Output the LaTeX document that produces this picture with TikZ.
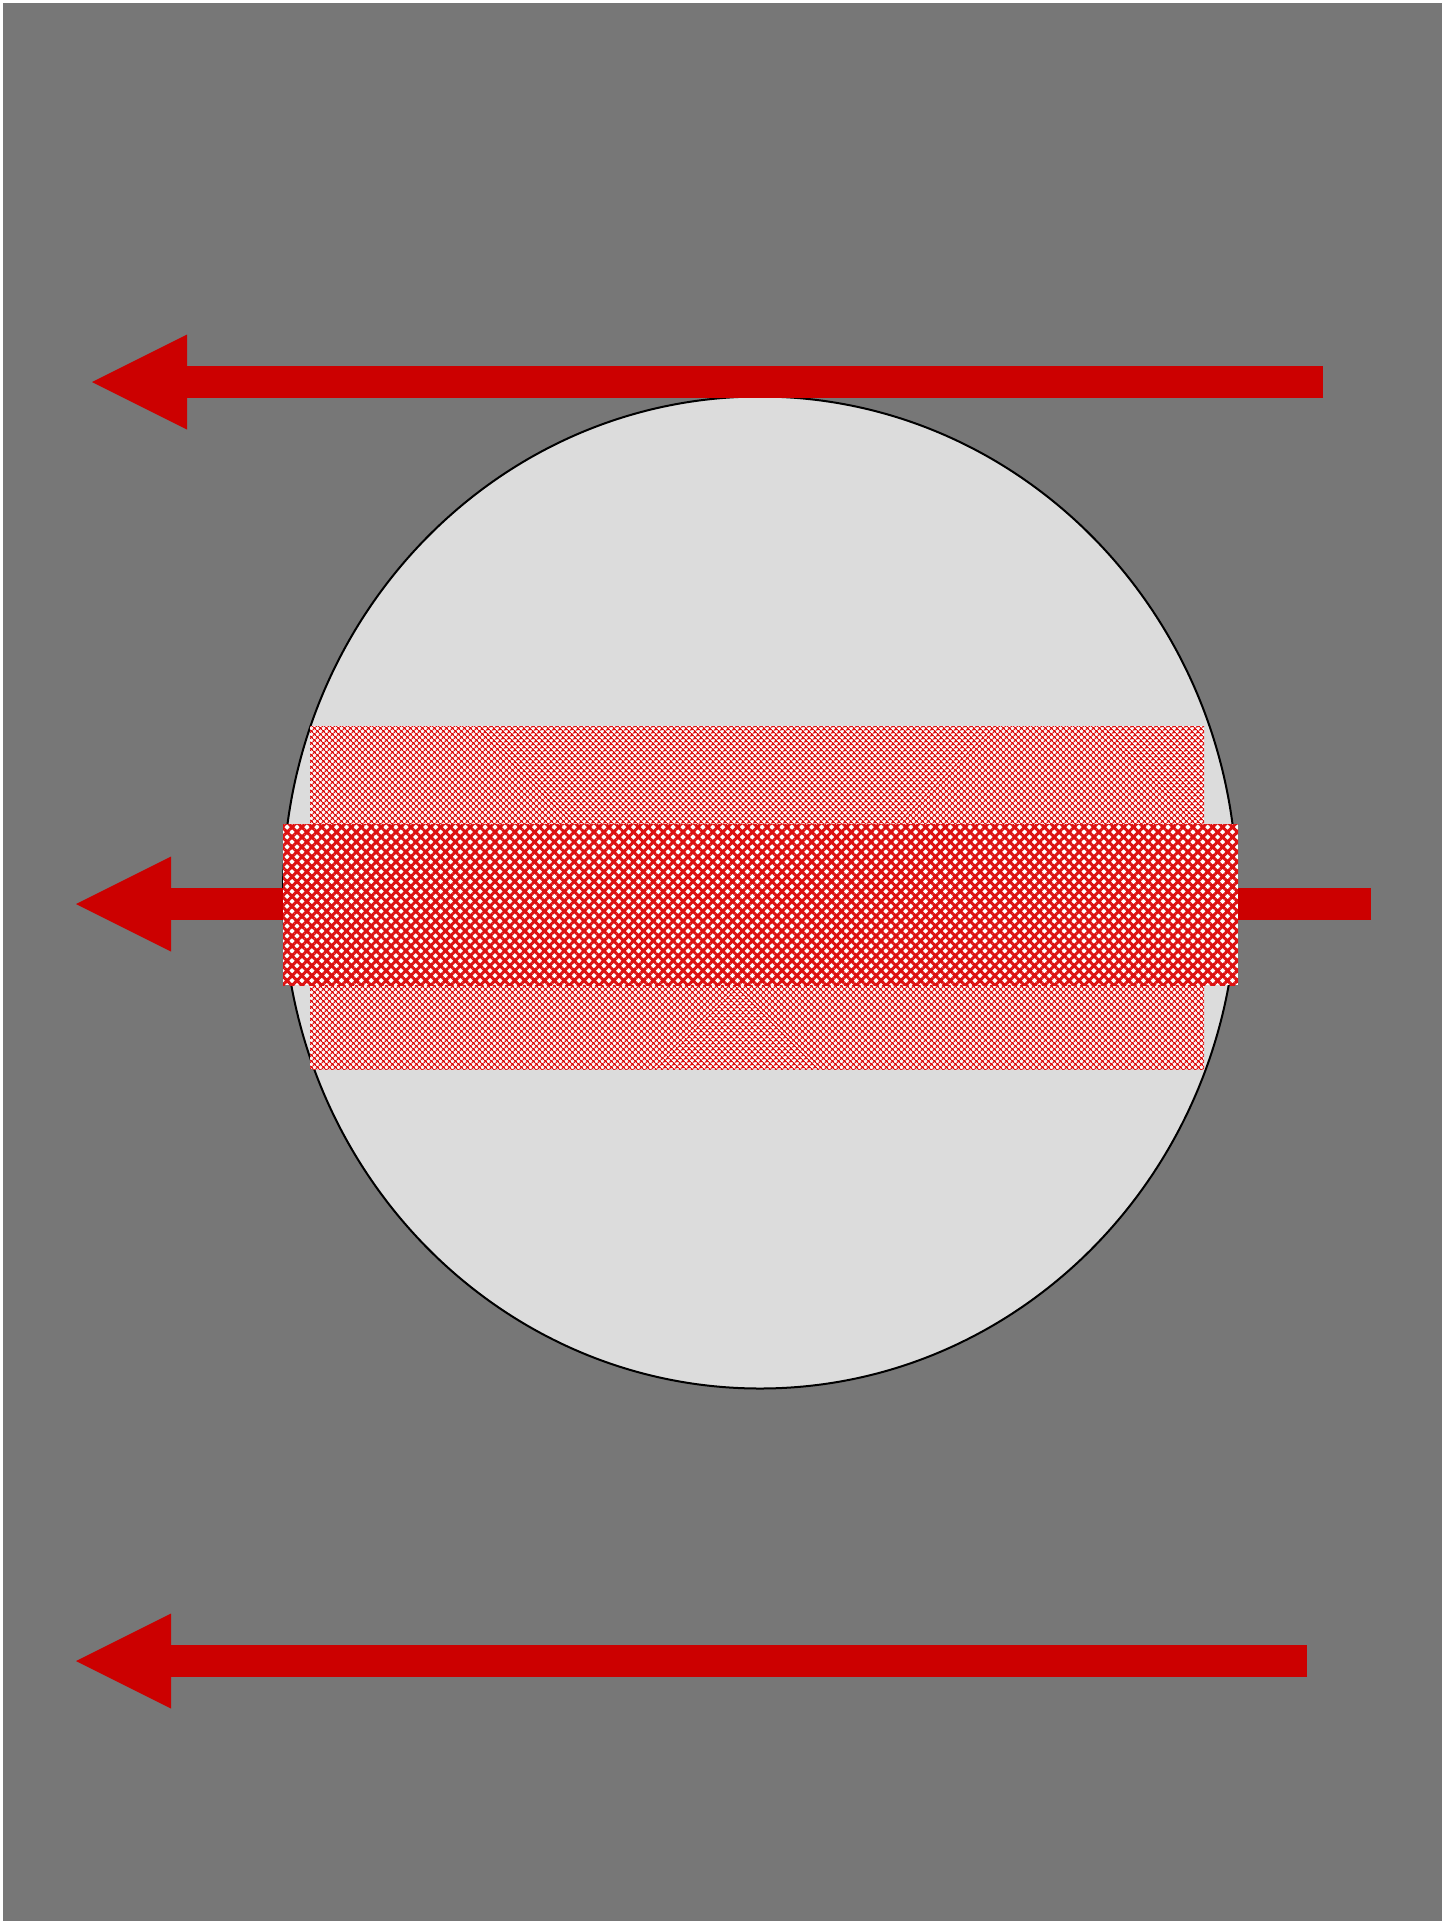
\documentclass[tikz,border=0pt]{standalone}
\usetikzlibrary{arrows.meta,patterns.meta,shapes.geometric}
\definecolor{bggray}{HTML}{777777}
\definecolor{discgray}{HTML}{DCDCDC}
\definecolor{arrowred}{HTML}{CC0000}
\definecolor{hatchred}{HTML}{DD1111}
\tikzset{
  bigarrow/.style={draw=arrowred, line width=32pt, line cap=butt,
    -{Triangle[length=95pt,width=95pt,line width=0pt]}},
  lightband/.style={preaction={fill=white}, draw=none,
    pattern={Hatch[angle=45,distance=4pt,line width=1.3pt]}, pattern color=hatchred},
  darkband/.style={preaction={fill=white}, draw=none,
    pattern={Hatch[angle=45,distance=7pt,line width=3pt]}, pattern color=hatchred},
  disc/.style={fill=discgray, draw=black, line width=2pt}
}
\begin{document}
\begin{tikzpicture}[x=1pt,y=-1pt]
\useasboundingbox (0,0) rectangle (1442,1921);
\fill[bggray] (3,3) rectangle (1442,1921);
% disc
\node[disc, ellipse, minimum width=954pt, minimum height=992pt, inner sep=0pt] (disc) at (760,892.5) {};
% top arrow
\coordinate (a1s) at (1323,382);
\coordinate (a1e) at (92,382);
\draw[bigarrow] (a1s) -- (a1e);
% middle arrow
\coordinate (a2s) at (1371,904);
\coordinate (a2e) at (76,904);
\draw[bigarrow] (a2s) -- (a2e);
% patterned bands
\path[lightband] (310,726) rectangle (1204,1069);
\path[darkband] (283,824) rectangle (1238,985);
% bottom arrow
\coordinate (a3s) at (1307,1661);
\coordinate (a3e) at (76,1661);
\draw[bigarrow] (a3s) -- (a3e);
\end{tikzpicture}
\end{document}
